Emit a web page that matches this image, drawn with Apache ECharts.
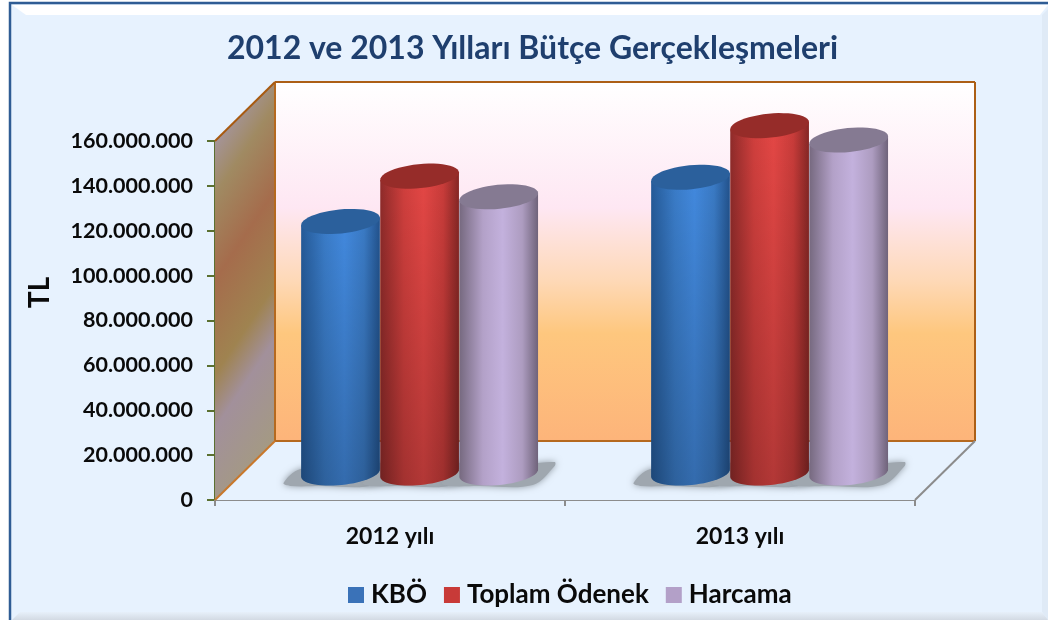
<!DOCTYPE html>
<html><head><meta charset="utf-8">
<style>html,body{margin:0;padding:0;background:#fff}#c{width:1048px;height:620px}</style>
<script src="https://cdn.jsdelivr.net/npm/echarts@6/dist/echarts.min.js"></script>
</head><body><div id="c"></div>
<script>
const categories = ['2012 yılı', '2013 yılı'];
const seriesNames = ['KBÖ', 'Toplam Ödenek', 'Harcama'];
const kbo = [112100000, 131800000];
const toplamOdenek = [132300000, 154800000];
const harcama = [123100000, 148400000];
const values = [kbo, toplamOdenek, harcama];

const FONT = 'Lato, "Open Sans", sans-serif';
const depthX = 60, depthY = -59;
const midX = 29.6, midY = -27;
const styles = [
  {legend:'#3a72b8', top:'#2b609c', stops:['#255a98','#3a7cc8','#4289de','#3a7ac4','#22528c']},
  {legend:'#c83a38', top:'#962c29', stops:['#8f2b2a','#d03f3d','#e44745','#c93c3a','#862725']},
  {legend:'#b3a0c8', top:'#857a92', stops:['#76697f','#b3a1c8','#c3b1dd','#ad9cc0','#6f637a']}
];
function formatTick(v){ return String(v).replace(/\B(?=(\d{3})+(?!\d))/g,'.'); }
function hGrad(st){ return {type:'linear',x:0,y:0,x2:1,y2:0,colorStops:[
  {offset:0,color:st[0]},{offset:.3,color:st[1]},{offset:.55,color:st[2]},{offset:.8,color:st[3]},{offset:1,color:st[4]}]}; }
const TILT = 0.1;
function ellipsePt(cx,cy,rx,ry,t){
  const x=rx*Math.cos(t), y=ry*Math.sin(t);
  return [cx+x*Math.cos(TILT)+y*Math.sin(TILT), cy-x*Math.sin(TILT)+y*Math.cos(TILT)];
}
function ellipsePts(cx,cy,rx,ry,from,to,n){
  const pts=[];
  for(let k=0;k<=n;k++) pts.push(ellipsePt(cx,cy,rx,ry,from+(to-from)*k/n));
  return pts;
}

function renderWalls(params, api){
  const yMax = 160000000;
  const b0 = api.coord([0,0]), b1 = api.coord([1,0]), band = api.size([1,0])[0];
  const xl = b0[0]-band/2, xr = b1[0]+band/2, yb = b0[1], yt = api.coord([0,yMax])[1];
  const back = {l:xl+depthX, r:xr+depthX, t:yt+depthY, b:yb+depthY};
  const line=(x1,y1,x2,y2,c,w)=>({type:'line',shape:{x1,y1,x2,y2},style:{stroke:c,lineWidth:w},silent:true});
  return {type:'group',children:[
    {type:'polygon',shape:{points:[[xl,yb],[xr,yb],[back.r,back.b],[back.l,back.b]]},style:{fill:'#e7f2fe'}},
    {type:'rect',shape:{x:back.l,y:back.t,width:back.r-back.l,height:back.b-back.t},style:{fill:{type:'linear',x:0,y:0,x2:0,y2:1,colorStops:[
      {offset:0,color:'#ffffff'},{offset:.35,color:'#fee7f3'},{offset:.55,color:'#fed9b8'},{offset:.7,color:'#fec77e'},{offset:1,color:'#fdb47a'}]}}},
    {type:'polygon',shape:{points:[[xl,yt],[back.l,back.t],[back.l,back.b],[xl,yb]]},style:{fill:{type:'linear',global:true,x:xl,y:back.t,x2:xl+208,y2:back.t+139,colorStops:[
      {offset:.13,color:'#a59499'},{offset:.25,color:'#a08a62'},{offset:.44,color:'#a56c4c'},{offset:.65,color:'#9f8350'},{offset:.77,color:'#a2909b'},{offset:1,color:'#a49a82'}]}}},
    line(back.l,back.t,back.r,back.t,'#ac5f16',2),
    line(back.r,back.t,back.r,back.b,'#ac5f16',2),
    line(back.l,back.b,back.r,back.b,'#b5691f',2),
    line(back.l,back.t,back.l,back.b,'#b5691f',2),
    line(xl,yt,back.l,back.t,'#a85a10',2),
    line(xl,yb,back.l,back.b,'#c8782c',2),
    line(xr,yb,back.r,back.b,'#8c8c8c',2)
  ]};
}
function renderShadow(params, api){
  const p = api.coord([api.value(0),0]), w = api.size([1,0])[0]*0.226;
  const cx = p[0]+midX+(api.value(1)-1)*w, cy = p[1]+midY;
  const pts=[[-57,10],[-40,-4],[30,-9],[56,-11],[56,-7],[34,12],[-20,13],[-50,13]].map(a=>[cx+a[0],cy+a[1]]);
  return {type:'polygon',shape:{points:pts,smooth:.35},style:{fill:'#9fa7af',shadowBlur:7,shadowColor:'#8f98a1'},silent:true};
}
function renderCylinder(si){
  return function(params, api){
    const cat = api.value(0), val = api.value(1);
    const w = api.size([1,0])[0]*0.226, r = w/2, ry = 12;
    const x0 = api.coord([cat,0]);
    const cx = x0[0]+midX+(si-1)*w;
    const yb = x0[1]+midY, yt = api.coord([cat,val])[1]+midY;
    const st = styles[si];
    const topE = ellipsePts(cx,yt,r,ry,0,Math.PI*2,48);
    const arc = ellipsePts(cx,yb,r,ry,Math.PI,0,30);
    const body = [ellipsePt(cx,yt,r,ry,Math.PI)].concat(arc,[ellipsePt(cx,yt,r,ry,0)]);
    return {type:'group',children:[
      {type:'polygon',shape:{points:body},style:{fill:hGrad(st.stops)}},
      {type:'polygon',shape:{points:body},style:{fill:{type:'linear',x:0,y:0,x2:0,y2:1,colorStops:[
        {offset:0,color:'rgba(0,0,0,0)'},{offset:1,color:si===2?'rgba(0,0,0,0)':'rgba(0,0,0,0.22)'}]}}},
      {type:'polygon',shape:{points:topE},style:{fill:st.top}}
    ]};
  };
}
const shadowData = [];
categories.forEach((c,ci)=>seriesNames.forEach((n,si)=>shadowData.push([ci,si])));

const series = [
  {type:'custom',name:'walls',z:1,silent:true,renderItem:renderWalls,data:[[0]],clip:false},
  {type:'custom',name:'shadow',z:2,silent:true,renderItem:renderShadow,data:shadowData,clip:false}
].concat(seriesNames.map((n,si)=>({
  type:'custom',name:n,z:3+si,renderItem:renderCylinder(si),clip:false,
  itemStyle:{color:styles[si].legend},
  data:values[si].map((v,ci)=>[ci,v]),
  encode:{x:0,y:1}
})));

const chart = echarts.init(document.getElementById('c'),null,{renderer:'canvas'});
chart.setOption({
  animation:false,
  backgroundColor:'#ffffff',
  textStyle:{fontFamily:FONT},
  graphic:[
    {type:'rect',z:-10,shape:{x:10,y:3,width:1060,height:640},style:{fill:'#e7f2fe',stroke:'#2f5c94',lineWidth:2.5}},
    {type:'polygon',z:-9,shape:{points:[[12,5],[1048,5],[1040,15],[26,15]]},style:{fill:'#ffffff'}},
    {type:'polygon',z:-9,shape:{points:[[1048,9],[1048,620],[1042,612],[1042,15]]},style:{fill:'#dfeaf6'}},
    {type:'polygon',z:-9,shape:{points:[[12,620],[20,612],[1042,612],[1048,620]]},style:{fill:{type:'linear',x:0,y:0,x2:0,y2:1,colorStops:[{offset:0,color:'#e7f0fa'},{offset:1,color:'#d3dae3'}]}}}
  ],
  title:{text:'2012 ve 2013 Yılları Bütçe Gerçekleşmeleri',left:527.5,top:28,textAlign:'center',
    textStyle:{fontFamily:FONT,fontWeight:'bold',fontSize:32,color:'#1f3f6e'}},
  legend:{data:seriesNames.map((n,si)=>({name:n,icon:'rect',itemStyle:{color:styles[si].legend}})),
    left:343,top:577,itemWidth:16,itemHeight:16,itemGap:17,
    textStyle:{fontFamily:FONT,fontWeight:'bold',fontSize:26,color:'#0a0a0a',padding:[0,0,0,2]}},
  grid:{left:215,right:133,top:141,bottom:120},
  xAxis:{type:'category',data:categories,
    axisLine:{lineStyle:{color:'#8c8c8c',width:2}},
    axisTick:{show:true,length:6,lineStyle:{color:'#8c8c8c',width:2}},
    axisLabel:{fontFamily:FONT,fontWeight:'bold',fontSize:23,color:'#0a0a0a',margin:25}},
  yAxis:{type:'value',min:0,max:160000000,interval:20000000,name:'TL',nameLocation:'middle',nameGap:161,nameRotate:90,
    nameTextStyle:{fontFamily:FONT,fontWeight:'bold',fontSize:28,color:'#0a0a0a',padding:[0,0,0,56]},
    axisLine:{show:true,lineStyle:{color:'#5a7030',width:2}},
    axisTick:{show:true,length:8,lineStyle:{color:'#5a7030',width:2}},
    splitLine:{show:false},
    axisLabel:{fontFamily:FONT,fontWeight:'bold',fontSize:21.5,color:'#0a0a0a',margin:22,formatter:formatTick}},
  series
});
</script></body></html>
